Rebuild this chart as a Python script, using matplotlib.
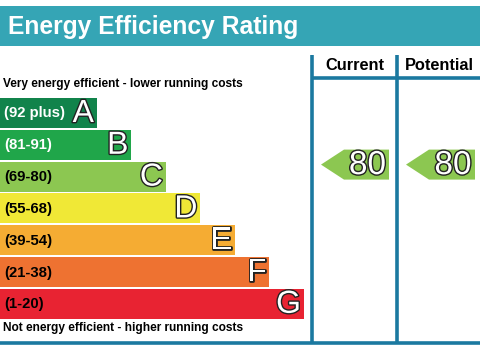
import matplotlib
matplotlib.use("Agg")
import matplotlib.pyplot as plt
import matplotlib.patheffects as pe
from matplotlib.patches import Rectangle, Polygon

plt.rcParams['font.family'] = ['Liberation Sans', 'DejaVu Sans']

# EPC bands, top to bottom
bands = ['A', 'B', 'C', 'D', 'E', 'F', 'G']
ranges = ['(92 plus)', '(81-91)', '(69-80)', '(55-68)', '(39-54)', '(21-38)', '(1-20)']
lows = [92, 81, 69, 55, 39, 21, 1]
colors = ['#11834b', '#20a64a', '#8cc751', '#f0e836', '#f5ac33', '#ee7231', '#e82332']
label_colors = ['white', 'white', 'black', 'black', 'black', 'black', 'black']

current = 80
potential = 80

title = 'Energy Efficiency Rating'
top_note = 'Very energy efficient - lower running costs'
bottom_note = 'Not energy efficient - higher running costs'

W, H = 481, 361
fig = plt.figure(figsize=(W / 100, H / 100), dpi=100)
ax = fig.add_axes([0, 0, 1, 1])
ax.set_xlim(0, W)
ax.set_ylim(H, 0)
ax.axis('off')

teal = '#35a5b5'
line_col = '#1b79a0'
outline = [pe.withStroke(linewidth=2.0, foreground='#222222')]

# title band
ax.add_patch(Rectangle((0, 6), W, 40, color=teal, lw=0))
ax.text(8, 27, title, color='white', fontsize=17.7, fontweight='bold', va='center')

# bars
row_top = 98
pitch = 31.8
bar_h = 30
for i, (b, r, c, lc) in enumerate(zip(bands, ranges, colors, label_colors)):
    y = row_top + i * pitch
    w = 97 + i * 34.5
    ax.add_patch(Rectangle((0, y), w, bar_h, color=c, lw=0))
    ax.text(4, y + bar_h / 2 + 0.5, r, color=lc, fontsize=10.7, fontweight='bold', va='center')
    ax.text(w - 3, y + bar_h / 2 + 1, b, color='white', fontsize=23, va='center', ha='right',
            path_effects=outline)

ax.text(3, 84, top_note, fontsize=8.6, fontweight='bold', va='center')
ax.text(3, 328, bottom_note, fontsize=8.6, fontweight='bold', va='center')

# frame lines
ax.plot([0, W], [343, 343], color=line_col, lw=2.6, solid_capstyle='butt')
ax.plot([312, 312], [55, 343], color=line_col, lw=2.6, solid_capstyle='butt')
ax.plot([397, 397], [55, 343], color=line_col, lw=2.6, solid_capstyle='butt')
ax.plot([312, W], [78, 78], color=line_col, lw=2.6, solid_capstyle='butt')
ax.text(354.5, 65, 'Current', fontsize=11.8, fontweight='bold', ha='center', va='center')
ax.text(439, 65, 'Potential', fontsize=11.8, fontweight='bold', ha='center', va='center')


def band_of(v):
    for i, lo in enumerate(lows):
        if v >= lo:
            return i
    return len(lows) - 1


def arrow(x_tip, x_end, value):
    i = band_of(value)
    yc = row_top + i * pitch + 3
    h = 30
    pts = [(x_tip, yc), (x_tip + 23, yc - h / 2), (x_end, yc - h / 2),
           (x_end, yc + h / 2), (x_tip + 23, yc + h / 2)]
    ax.add_patch(Polygon(pts, closed=True, color=colors[i], lw=0))
    ax.text((x_tip + 23 + x_end) / 2 + 1, yc + 1, str(value), color='white', fontsize=24,
            ha='center', va='center', path_effects=outline)


arrow(321, 389, current)
arrow(406, 475, potential)

fig.savefig('out.png', dpi=100)
